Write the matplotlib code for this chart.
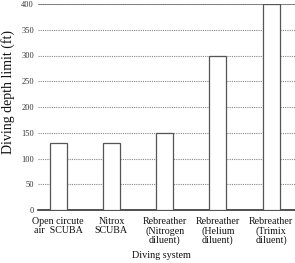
import matplotlib.pyplot as plt

# Data
systems = ["Open circute\nair  SCUBA", "Nitrox\nSCUBA", "Rebreather\n(Nitrogen\ndiluent)",
           "Rebreather\n(Helium\ndiluent)", "Rebreather\n(Trimix\ndiluent)"]
depth_limit = [130, 130, 150, 300, 400]
y_ticks = [0, 50, 100, 150, 200, 250, 300, 350, 400]

plt.rcParams['font.family'] = ['Liberation Serif', 'DejaVu Serif']

fig = plt.figure(figsize=(2.95, 2.63), dpi=100)
ax = fig.add_axes([38 / 295, 1 - 210 / 263, 1 - 38 / 295, 206 / 263])

x = range(len(systems))
ax.bar(x, depth_limit, width=0.32, color='white', edgecolor='#555555', linewidth=0.9, zorder=3)

ax.set_ylim(0, 400)
ax.set_xlim(-0.38, 4.45)
ax.set_yticks(y_ticks)
ax.set_yticklabels([str(t) for t in y_ticks], fontsize=6, color='#333333')
ax.set_xticks(list(x))
ax.set_xticklabels(systems, fontsize=7.2, linespacing=1.0, color='#111111')
ax.tick_params(axis='y', length=0, pad=3)
ax.tick_params(axis='x', length=0, pad=5)

ax.grid(axis='y', linestyle=(0, (1, 1)), color='#888888', linewidth=0.8, zorder=0)
ax.axhline(400, color='#777777', linewidth=1.2, zorder=2)

for s in ['left', 'right', 'top']:
    ax.spines[s].set_visible(False)
ax.spines['bottom'].set_color('#333333')
ax.spines['bottom'].set_linewidth(1.2)

fig.text(8 / 295, 1 - 92 / 263, "Diving depth limit (ft)", rotation=90,
         ha='center', va='center', fontsize=10, color='#111111')
fig.text(161 / 295, 1 - 256 / 263, "Diving system", ha='center', va='center',
         fontsize=7.3, color='#111111')

fig.savefig("out.png", dpi=100)
